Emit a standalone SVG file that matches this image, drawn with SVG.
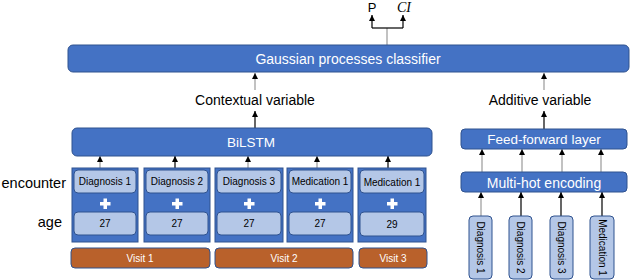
<svg xmlns="http://www.w3.org/2000/svg" width="630" height="280" viewBox="0 0 630 280">
<defs>
<marker id="ah" markerWidth="6" markerHeight="6" refX="6" refY="3" orient="auto" markerUnits="userSpaceOnUse" viewBox="0 0 6 6">
<path d="M0,0 L6,3 L0,6 Z" fill="#000"/>
</marker>
<style>
text{font-family:"Liberation Sans",Arial,sans-serif;}
.blue{fill:#4472C4;stroke:#2F528F;stroke-width:1;}
.light{fill:#B4C7E7;stroke:#2F528F;stroke-width:1;}
.orange{fill:#B9612B;stroke:#2F528F;stroke-width:1;}
.wt{fill:#fff;text-anchor:middle;}
.bt{fill:#000;text-anchor:middle;}
.lbl{fill:#000;font-size:14px;text-anchor:middle;}
.plus{fill:#fff;}
.c{fill:none;stroke:#000;stroke-width:1.2;}
.g{fill:none;stroke:#999;stroke-width:1.2;}
</style>
</defs>
<rect width="630" height="280" fill="#fff"/>

<g id="connectors">
<path class="g" d="M387,45 V28"/>
<path class="c" d="M372,28 H403"/>
<path class="c" d="M372,28 V15" marker-end="url(#ah)"/>
<path class="c" d="M403,28 V15" marker-end="url(#ah)"/>
<path class="g" d="M255,90 V73" marker-end="url(#ah)"/>
<path class="c" d="M255,128 V111" marker-end="url(#ah)"/>
<path class="g" d="M544,90 V73" marker-end="url(#ah)"/>
<path class="c" d="M544,129 V111" marker-end="url(#ah)"/>
<path class="g" d="M100,168 V156" marker-end="url(#ah)"/>
<path class="c" d="M175,168 V156" marker-end="url(#ah)"/>
<path class="g" d="M248,168 V156" marker-end="url(#ah)"/>
<path class="g" d="M317,168 V156" marker-end="url(#ah)"/>
<path class="c" d="M388,168 V156" marker-end="url(#ah)"/>
<path class="g" d="M482,172 V149" marker-end="url(#ah)"/>
<path class="g" d="M522,172 V149" marker-end="url(#ah)"/>
<path class="g" d="M562,172 V149" marker-end="url(#ah)"/>
<path class="g" d="M601,172 V149" marker-end="url(#ah)"/>
<path class="g" d="M481,216 V192" marker-end="url(#ah)"/>
<path class="c" d="M521,216 V192" marker-end="url(#ah)"/>
<path class="c" d="M561,216 V192" marker-end="url(#ah)"/>
<path class="c" d="M602,216 V192" marker-end="url(#ah)"/>
</g>

<g id="outputs">
<text x="372" y="12" class="bt" font-size="13">P</text>
<text x="404" y="12" class="bt" font-size="14" font-style="italic" style="font-family:'Liberation Serif',serif">CI</text>
</g>

<g id="classifier">
<rect class="blue" x="68" y="45" width="561" height="27" rx="5"/>
<text x="348" y="63.5" class="wt" font-size="14">Gaussian processes classifier</text>
</g>

<g id="contextual">
<text x="255" y="105" class="lbl">Contextual variable</text>
</g>
<g id="additive">
<text x="540" y="105" class="lbl">Additive variable</text>
</g>

<g id="bilstm">
<rect class="blue" x="72" y="128" width="360" height="28" rx="5"/>
<text x="251" y="147" class="wt" font-size="13.5">BiLSTM</text>
</g>

<g id="feedforward">
<rect class="blue" x="461" y="129" width="166" height="20" rx="4"/>
<text x="544" y="144" class="wt" font-size="13.5">Feed-forward layer</text>
</g>
<g id="multihot">
<rect class="blue" x="461" y="172" width="166" height="20" rx="4"/>
<text x="544" y="187.5" class="wt" font-size="14">Multi-hot encoding</text>
</g>

<g id="row-labels">
<text x="66" y="188" font-size="14.5" text-anchor="end" fill="#000">encounter</text>
<text x="62" y="227" font-size="14.5" text-anchor="end" fill="#000">age</text>
</g>

<g id="col1">
<rect class="blue" x="72" y="168" width="66" height="74"/>
<rect class="light" x="74" y="170" width="62" height="23" rx="4"/>
<text x="105" y="185" class="bt" font-size="10">Diagnosis 1</text>
<path class="plus" d="M103.5,198.5 h3.5 v3.5 h3.5 v3.5 h-3.5 v3.5 h-3.5 v-3.5 h-3.5 v-3.5 h3.5 z"/>
<rect class="light" x="74" y="212" width="62" height="23" rx="4"/>
<text x="105" y="227" class="bt" font-size="10">27</text>
</g>

<g id="col2">
<rect class="blue" x="144" y="168" width="66" height="74"/>
<rect class="light" x="146" y="170" width="62" height="23" rx="4"/>
<text x="177" y="185" class="bt" font-size="10">Diagnosis 2</text>
<path class="plus" d="M175.5,198.5 h3.5 v3.5 h3.5 v3.5 h-3.5 v3.5 h-3.5 v-3.5 h-3.5 v-3.5 h3.5 z"/>
<rect class="light" x="146" y="212" width="62" height="23" rx="4"/>
<text x="177" y="227" class="bt" font-size="10">27</text>
</g>

<g id="col3">
<rect class="blue" x="215" y="168" width="68" height="74"/>
<rect class="light" x="217" y="170" width="64" height="23" rx="4"/>
<text x="249" y="185" class="bt" font-size="10">Diagnosis 3</text>
<path class="plus" d="M247.5,198.5 h3.5 v3.5 h3.5 v3.5 h-3.5 v3.5 h-3.5 v-3.5 h-3.5 v-3.5 h3.5 z"/>
<rect class="light" x="217" y="212" width="64" height="23" rx="4"/>
<text x="249" y="227" class="bt" font-size="10">27</text>
</g>

<g id="col4">
<rect class="blue" x="287" y="168" width="66" height="74"/>
<rect class="light" x="289" y="170" width="62" height="23" rx="4"/>
<text x="320" y="185" class="bt" font-size="10">Medication 1</text>
<path class="plus" d="M318.5,198.5 h3.5 v3.5 h3.5 v3.5 h-3.5 v3.5 h-3.5 v-3.5 h-3.5 v-3.5 h3.5 z"/>
<rect class="light" x="289" y="212" width="62" height="23" rx="4"/>
<text x="320" y="227" class="bt" font-size="10">27</text>
</g>

<g id="col5">
<rect class="blue" x="358" y="168" width="68" height="74"/>
<rect class="light" x="360" y="170" width="64" height="23" rx="4"/>
<text x="392" y="185.5" class="bt" font-size="10">Medication 1</text>
<path class="plus" d="M390.5,198.5 h3.5 v3.5 h3.5 v3.5 h-3.5 v3.5 h-3.5 v-3.5 h-3.5 v-3.5 h3.5 z"/>
<rect class="light" x="360" y="212" width="64" height="24" rx="4"/>
<text x="392" y="228" class="bt" font-size="10">29</text>
</g>

<g id="visit1">
<rect class="orange" x="71" y="248" width="139" height="20" rx="4"/>
<text x="140" y="262" class="wt" font-size="10">Visit 1</text>
</g>
<g id="visit2">
<rect class="orange" x="215" y="248" width="138" height="20" rx="4"/>
<text x="284" y="262" class="wt" font-size="10">Visit 2</text>
</g>
<g id="visit3">
<rect class="orange" x="359" y="248" width="68" height="20" rx="4"/>
<text x="393" y="262" class="wt" font-size="10">Visit 3</text>
</g>

<g id="v-diag1">
<rect class="light" x="469" y="216" width="23" height="63" rx="4"/>
<text transform="translate(480.5,247.5) rotate(90)" class="bt" font-size="10" dominant-baseline="central">Diagnosis 1</text>
</g>
<g id="v-diag2">
<rect class="light" x="509" y="216" width="23" height="63" rx="4"/>
<text transform="translate(520.5,247.5) rotate(90)" class="bt" font-size="10" dominant-baseline="central">Diagnosis 2</text>
</g>
<g id="v-diag3">
<rect class="light" x="550" y="216" width="23" height="63" rx="4"/>
<text transform="translate(561.5,247.5) rotate(90)" class="bt" font-size="10" dominant-baseline="central">Diagnosis 3</text>
</g>
<g id="v-med1">
<rect class="light" x="590" y="216" width="24" height="63" rx="4"/>
<text transform="translate(602,247.5) rotate(90)" class="bt" font-size="10" dominant-baseline="central">Medication 1</text>
</g>
</svg>
